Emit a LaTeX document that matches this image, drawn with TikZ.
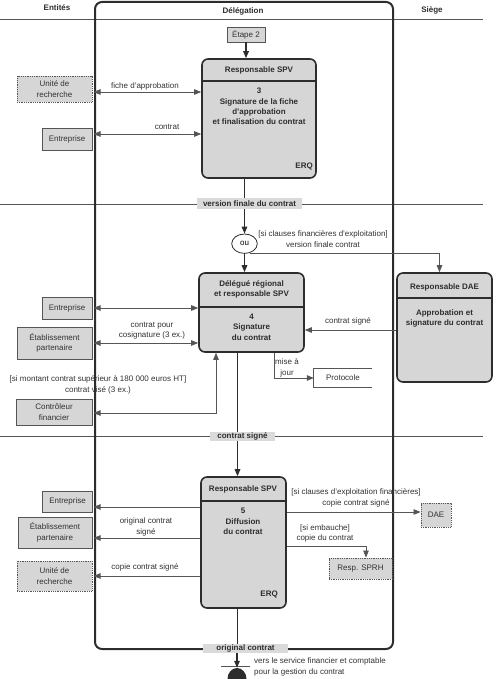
\documentclass[tikz,border=0pt]{standalone}
\usepackage{fontspec}
\setmainfont{Liberation Sans}
\usetikzlibrary{arrows.meta,shapes.geometric}

\definecolor{boxfill}{RGB}{214,214,214}
\definecolor{bandfill}{RGB}{218,218,218}
\definecolor{inkdark}{RGB}{45,45,45}
\definecolor{inkline}{RGB}{85,85,85}
\definecolor{inktext}{RGB}{50,50,50}

\tikzset{
  entite/.style={draw=inkline, fill=boxfill, line width=0.8, align=center, inner sep=0, text=inktext},
  entitept/.style={entite, densely dotted},
  activite/.style={draw=inkdark, fill=boxfill, line width=1.6, rounded corners=6, inner sep=0},
  bande/.style={fill=bandfill, inner sep=0, font=\bfseries\fontsize{8}{10}\selectfont, text=inkdark},
  flux/.style={draw=inkdark, line width=1.5, -{Triangle[length=7pt,width=5.5pt]}},
  fluxsimple/.style={draw=inkdark, line width=1.5},
  msg/.style={draw=inkline, line width=0.75, -{Triangle[length=7pt,width=5.5pt]}},
  msgdouble/.style={draw=inkline, line width=0.75, {Triangle[length=7pt,width=5.5pt]}-{Triangle[length=7pt,width=5.5pt]}},
  etiq/.style={align=center, text=inktext, inner sep=0},
  titre/.style={font=\bfseries\fontsize{8}{10.3}\selectfont, text=inkdark, inner sep=0},
  separe/.style={draw=inkdark, line width=1.6},
}

\begin{document}
\begin{tikzpicture}[x=1pt, y=-1pt, font=\fontsize{8}{10.3}\selectfont]
\useasboundingbox (0,0) rectangle (500,679);

\draw[inkline, line width=0.7] (0,19) -- (483,19);
\draw[inkline, line width=0.7] (0,204) -- (483,204);
\draw[inkline, line width=0.7] (0,436) -- (483,436);
\draw[inkdark, line width=2, rounded corners=7] (95,2) rectangle (393,649);
\coordinate (bord) at (93.5,0);
\coordinate (axe) at (237.5,0);

\node[titre] at (57,8) {Entités};
\node[titre] at (243,11) {Délégation};
\node[titre] at (432,10) {Siège};

\node[entite, minimum width=38, minimum height=15] (etape) at (246,34.5) {Étape 2};

\node[activite, minimum width=114, minimum height=119] (act3) at (259,118.5) {};
\draw[separe] (act3.west |- 0,81) -- (act3.east |- 0,81);
\node[titre] at (259,70) {Responsable SPV};
\node[titre, align=center] at (259,106.5) {3\\Signature de la fiche\\d'approbation\\et finalisation du contrat};
\node[titre, anchor=east] at (313,166) {ERQ};
\draw[flux] (etape.south) -- (etape.south |- act3.north);

\node[entitept, minimum width=75, minimum height=26] (ur1) at (54.5,89) {Unité de\\recherche};
\node[entite, minimum width=50, minimum height=22] (ent1) at (67,139) {Entreprise};
\draw[msgdouble] (bord |- 0,92) -- (act3.west |- 0,92);
\node[etiq] at (145,86) {fiche d'approbation};
\draw[msgdouble] (bord |- 0,134) -- (act3.west |- 0,134);
\node[etiq] at (167,127) {contrat};

\node[bande, minimum width=105, minimum height=11] (vfin) at (249.5,203.5) {version finale du contrat};
\node[ellipse, draw=inkdark, line width=0.8, fill=white, minimum width=25.6, minimum height=19.4, inner sep=0] (ou) at (244.5,243.7) {ou};
\draw[fluxsimple] (ou |- act3.south) -- (ou |- vfin.north);
\draw[flux] (ou |- vfin.south) -- (ou.north);

\node[activite, minimum width=105, minimum height=79] (act4) at (251.5,312.5) {};
\draw[separe] (act4.west |- 0,307) -- (act4.east |- 0,307);
\node[titre, align=center] at (251.5,289.5) {Délégué régional\\et responsable SPV};
\node[titre, align=center] at (251.5,327) {4\\Signature\\du contrat};
\draw[flux] (ou.south) -- (ou.south |- act4.north);

\node[activite, minimum width=95, minimum height=109] (dae) at (444.5,327.5) {};
\draw[separe] (dae.west |- 0,298) -- (dae.east |- 0,298);
\node[titre] at (444.5,287) {Responsable DAE};
\node[titre, align=center] at (444.5,318.5) {Approbation et\\signature du contrat};
\draw[msg] (ou.-60) -| ([xshift=-5pt]dae.north);
\node[etiq] at (323,239) {[si clauses financières d'exploitation]\\version finale contrat};
\draw[msg] (dae.west |- 0,330) -- (act4.east |- 0,330);
\node[etiq] at (348,321) {contrat signé};

\node[inner sep=0, minimum width=58, minimum height=18, text=inktext] (proto) at (343,378) {Protocole};
\draw[inkline, line width=0.75] (proto.north east) -- (proto.north west) -- (proto.south west) -- (proto.south east);
\draw[msg] ([xshift=22.5pt]act4.south) |- (proto.west);
\node[etiq] at (287,368) {mise à\\jour};

\node[entite, minimum width=50, minimum height=22] (ent2) at (67,308) {Entreprise};
\node[entite, minimum width=75, minimum height=32] (etab2) at (54.5,343) {Établissement\\partenaire};
\node[entite, minimum width=76, minimum height=26] (ctrl) at (54,412) {Contrôleur\\financier};
\draw[msgdouble] (bord |- ent2) -- (act4.west |- ent2);
\draw[msgdouble] (bord |- etab2) -- (act4.west |- etab2);
\node[etiq] at (152,330.5) {contrat pour\\cosignature (3 ex.)};
\draw[msgdouble] (bord |- 0,413) -| ([xshift=-35.5pt]act4.south);
\node[etiq] at (98,385) {[si montant contrat supérieur à 180 000 euros HT]\\contrat visé (3 ex.)};

\node[bande, minimum width=65, minimum height=9.5] (csig) at (242.5,436.5) {contrat signé};
\draw[fluxsimple] (axe |- act4.south) -- (axe |- csig.north);

\node[activite, minimum width=85, minimum height=131] (act5) at (243.5,542.5) {};
\draw[separe] (act5.west |- 0,501) -- (act5.east |- 0,501);
\node[titre] at (243,489) {Responsable SPV};
\node[titre, align=center] at (243,521.5) {5\\Diffusion\\du contrat};
\node[titre, anchor=east] at (278,594) {ERQ};
\draw[flux] (axe |- csig.south) -- (axe |- act5.north);

\node[entite, minimum width=50, minimum height=21] (ent3) at (67.5,501.5) {Entreprise};
\node[entite, minimum width=74, minimum height=31] (etab3) at (55,532.5) {Établissement\\partenaire};
\node[entitept, minimum width=75, minimum height=30] (ur3) at (54.5,576) {Unité de\\recherche};
\draw[msg] (act5.west |- 0,507) -- (bord |- 0,507);
\draw[msg] (act5.west |- 0,538) -- (bord |- 0,538);
\node[etiq] at (146,527) {original contrat\\signé};
\draw[msg] (act5.west |- ur3) -- (bord |- ur3);
\node[etiq] at (145,567) {copie contrat signé};

\node[entitept, minimum width=30, minimum height=24] (dae3) at (436,515) {DAE};
\draw[msg] (act5.east |- 0,512) -- (dae3.west |- 0,512);
\node[etiq] at (356,498) {[si clauses d'exploitation financières]\\copie contrat signé};
\node[entitept, minimum width=63, minimum height=21] (sprh) at (360.5,568.5) {Resp. SPRH};
\draw[msg] (act5.east |- 0,546) -| ([xshift=5.5pt]sprh.north);
\node[etiq] at (325,533.5) {[si embauche]\\copie du contrat};

\node[bande, minimum width=85, minimum height=9.5] (orig) at (245.5,648.5) {original contrat};
\draw[fluxsimple] (axe |- act5.south) -- (axe |- orig.north);
\node[ellipse, fill=inkdark, minimum width=19, minimum height=22, inner sep=0] (fin) at (237,679) {};
\draw[inkline, line width=0.75] ([xshift=-16pt,yshift=1pt]fin.north) -- ([xshift=13pt,yshift=1pt]fin.north);
\draw[flux] (fin.north |- orig.south) -- (fin.north);
\node[etiq, anchor=west, align=left] at (254,667) {vers le service financier et comptable\\pour la gestion du contrat};
\end{tikzpicture}
\end{document}
